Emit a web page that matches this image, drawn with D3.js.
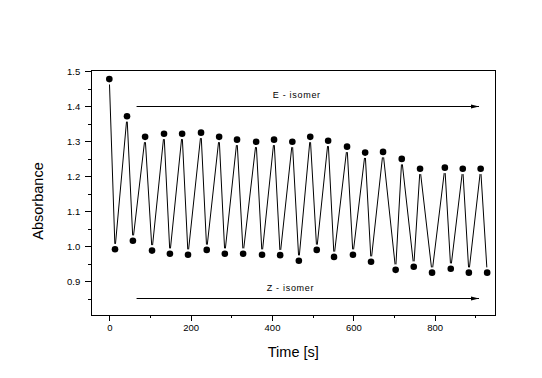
<!DOCTYPE html>
<html>
<head>
<meta charset="utf-8">
<script src="https://cdn.jsdelivr.net/npm/d3@7"></script>
<style>
	body { margin: 0; background: #fff; }
	text { font-family: "Liberation Sans", Arial, sans-serif; fill: #000; }
</style>
</head>
<body>
<svg id="vis"></svg>
<script>
// time [s] of every reading
var times = [0, 14, 43.5, 58, 88, 105, 134.5, 149, 179, 193.5, 225.5, 239.5, 270, 284, 314, 329,
	361, 375.5, 405, 420, 450, 466, 494, 510, 538, 552.5, 584.5, 599, 629, 643.5, 673, 704,
	719, 748.5, 764, 793.5, 825, 839.5, 869, 884, 913, 929];

// absorbance of every reading
var absorbance = [1.477, 0.991, 1.371, 1.015, 1.312, 0.987, 1.321, 0.978, 1.321, 0.975, 1.324, 0.989,
	1.312, 0.978, 1.304, 0.978, 1.298, 0.975, 1.304, 0.974, 1.298, 0.958, 1.312, 0.989, 1.301, 0.969,
	1.284, 0.975, 1.267, 0.955, 1.269, 0.932, 1.249, 0.941, 1.221, 0.924, 1.224, 0.935, 1.221, 0.924,
	1.221, 0.924];

var xMajorTicks = [0, 200, 400, 600, 800];
var xMinorTicks = [100, 300, 500, 700, 900];
var yMajorTicks = [0.9, 1.0, 1.1, 1.2, 1.3, 1.4, 1.5];
var yMinorTicks = [0.85, 0.95, 1.05, 1.15, 1.25, 1.35, 1.45];

// annotation arrows: label, text start, arrow start/end (time), level (absorbance)
var arrowLabels = ["E - isomer", "Z - isomer"];
var arrowTextX = [402, 387];
var arrowTextY = [1.424, 0.873];
var arrowStart = [67, 67];
var arrowEnd = [909, 909];
var arrowLevel = [1.401, 0.853];

var W = 542, H = 378;
var plot = {left: 91.3, right: 495.3, top: 70, bottom: 315};
var fontStack = "'Liberation Sans', Arial, sans-serif";

var svg = d3.select("svg#vis")
	.attr("width", W)
	.attr("height", H);

svg.append("rect")
	.attr("width", W)
	.attr("height", H)
	.attr("fill", "#ffffff");

var xScale = d3.scaleLinear()
	.domain([-44.3, 949])
	.range([plot.left, plot.right]);

var yScale = d3.scaleLinear()
	.domain([0.803, 1.503])
	.range([plot.bottom, plot.top]);

// Axes
var fmtY = d3.format(".1f");

svg.append("g")
	.attr("transform", "translate(0," + plot.bottom + ")")
	.call(d3.axisBottom(xScale).tickValues(xMajorTicks).tickSize(6).tickPadding(3).tickFormat(d3.format("d")));
svg.append("g")
	.attr("transform", "translate(0," + plot.bottom + ")")
	.call(d3.axisBottom(xScale).tickValues(xMinorTicks).tickSize(3).tickFormat(""));

svg.append("g")
	.attr("transform", "translate(" + plot.left + ",0)")
	.call(d3.axisLeft(yScale).tickValues(yMajorTicks).tickSize(6).tickPadding(5).tickFormat(fmtY));
svg.append("g")
	.attr("transform", "translate(" + plot.left + ",0)")
	.call(d3.axisLeft(yScale).tickValues(yMinorTicks).tickSize(3).tickFormat(""));

svg.selectAll(".domain").remove();
svg.selectAll(".tick line").attr("stroke", "#000").attr("shape-rendering", "crispEdges");
svg.selectAll(".tick text")
	.attr("font-family", null)
	.style("font-family", fontStack)
	.style("font-size", "9.5px")
	.attr("fill", "#000");

// Frame
svg.append("rect")
	.attr("x", plot.left)
	.attr("y", plot.top)
	.attr("width", plot.right - plot.left)
	.attr("height", plot.bottom - plot.top)
	.attr("fill", "none")
	.attr("stroke", "#000")
	.attr("stroke-width", 1)
	.attr("shape-rendering", "crispEdges");

// Axis titles
svg.append("text")
	.text("Time [s]")
	.attr("x", (plot.left + plot.right) / 2)
	.attr("y", 356.5)
	.style("text-anchor", "middle")
	.style("font-family", fontStack)
	.style("font-size", "14.5px");

svg.append("text")
	.text("Absorbance")
	.attr("transform", "translate(43,201) rotate(-90)")
	.style("text-anchor", "middle")
	.style("font-family", fontStack)
	.style("font-size", "14.5px");

// Arrow marker
svg.append("defs").append("marker")
	.attr("id", "head")
	.attr("viewBox", "0 0 8 6")
	.attr("refX", 8)
	.attr("refY", 3)
	.attr("markerWidth", 8)
	.attr("markerHeight", 6)
	.attr("markerUnits", "userSpaceOnUse")
	.attr("orient", "auto")
	.append("path")
	.attr("d", "M0,1 L8,3 L0,5 Z")
	.attr("fill", "#000");

var arrows = arrowLabels.map(function(lbl, i) {
	return {label: lbl, tx: arrowTextX[i], ty: arrowTextY[i], x0: arrowStart[i], x1: arrowEnd[i], y: arrowLevel[i]};
});

svg.selectAll("line.arrow").data(arrows).enter().append("line")
	.attr("class", "arrow")
	.attr("x1", function(d) {return xScale(d.x0)})
	.attr("x2", function(d) {return xScale(d.x1)})
	.attr("y1", function(d) {return Math.round(yScale(d.y)) + 0.5})
	.attr("y2", function(d) {return Math.round(yScale(d.y)) + 0.5})
	.attr("stroke", "#000")
	.attr("stroke-width", 1)
	.attr("marker-end", "url(#head)");

svg.selectAll("text.arrowLabel").data(arrows).enter().append("text")
	.attr("class", "arrowLabel")
	.attr("x", function(d) {return xScale(d.tx)})
	.attr("y", function(d) {return yScale(d.ty)})
	.style("font-family", fontStack)
	.style("font-size", "9px")
	.style("letter-spacing", "0.7px")
	.text(function(d) {return d.label});

// Data
var points = times.map(function(t, i) {return {t: t, a: absorbance[i]}});

var line = d3.line()
	.x(function(d) {return xScale(d.t)})
	.y(function(d) {return yScale(d.a)});

svg.append("path")
	.datum(points)
	.attr("d", line)
	.attr("fill", "none")
	.attr("stroke", "#000")
	.attr("stroke-width", 1);

// white halo so the line stops short of each symbol
svg.selectAll("circle.halo").data(points).enter().append("circle")
	.attr("class", "halo")
	.attr("cx", function(d) {return xScale(d.t)})
	.attr("cy", function(d) {return yScale(d.a)})
	.attr("r", 5.5)
	.attr("fill", "#fff");

svg.selectAll("circle.dot").data(points).enter().append("circle")
	.attr("class", "dot")
	.attr("cx", function(d) {return xScale(d.t)})
	.attr("cy", function(d) {return yScale(d.a)})
	.attr("r", 3.3)
	.attr("fill", "#000");
</script>
</body>
</html>
